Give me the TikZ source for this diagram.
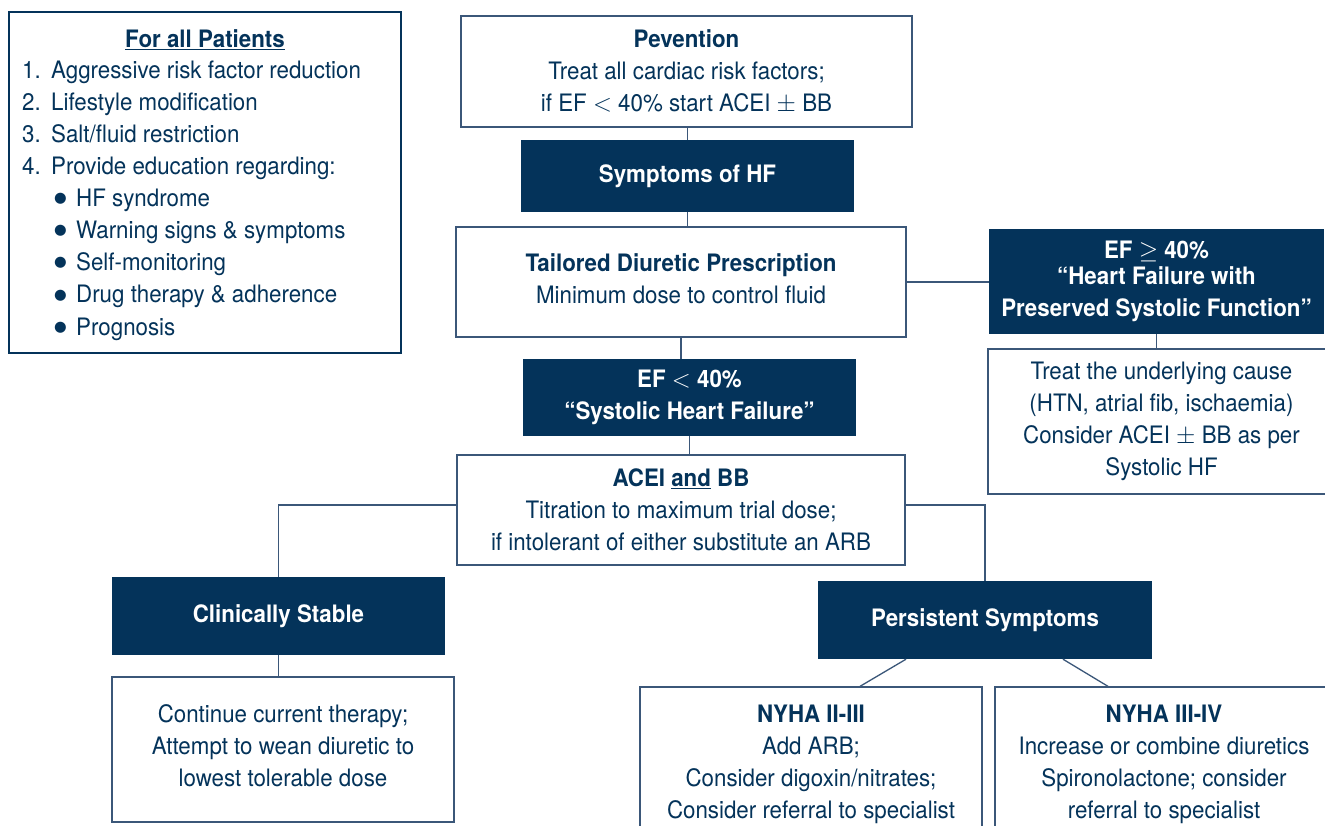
\documentclass[tikz,border=0pt]{standalone}
\usepackage{fontspec}
\setmainfont{TeX Gyre Heros}[FakeStretch=0.93]
\newfontfamily\dejavu{DejaVu Sans}
\definecolor{navy}{HTML}{04335A}
\definecolor{edgec}{HTML}{3B5779}
\newcommand{\bigbul}{\makebox[23pt][l]{\hspace{1pt}\raisebox{4pt}{\dejavu\fontsize{14.5}{14.5}\selectfont ●}}}
\begin{document}
\begin{tikzpicture}[x=1pt,y=-1pt,
  every node/.style={font=\fontsize{24}{32}\selectfont, text=navy},
  wbox/.style={draw=edgec, line width=1.3pt, fill=white, inner sep=0pt, align=center},
  dbox/.style={fill=navy, text=white, inner sep=0pt, align=center, font=\fontsize{24}{32}\selectfont\bfseries},
  pbox/.style={draw=navy, line width=2.6pt, fill=white, inner sep=0pt},
  listitem/.style={anchor=base west, inner sep=0pt},
  conn/.style={draw=edgec, line width=1.3pt}]
\useasboundingbox (0,0) rectangle (1325,826);
\clip (0,0) rectangle (1325,826);
\fill[white] (0,0) rectangle (1325,826);

% For all patients box
\node[pbox, minimum width=392pt, minimum height=341pt] (pat) at (205,182.5) {};
\node[anchor=base, inner sep=0pt, font=\fontsize{24}{32}\selectfont\bfseries] (p0) at (205,47.5) {\underline{For all Patients}};
\node[listitem] (p1) at (22,79) {\makebox[29pt][l]{1.}Aggressive risk factor reduction};
\node[listitem] (p2) at (22,111) {\makebox[29pt][l]{2.}Lifestyle modification};
\node[listitem] (p3) at (22,143) {\makebox[29pt][l]{3.}Salt/fluid restriction};
\node[listitem] (p4) at (22,175) {\makebox[29pt][l]{4.}Provide education regarding:};
\node[listitem] (p5) at (53,207) {\bigbul HF syndrome};
\node[listitem] (p6) at (53,239) {\bigbul Warning signs \& symptoms};
\node[listitem] (p7) at (53,271) {\bigbul Self-monitoring};
\node[listitem] (p8) at (53,303) {\bigbul Drug therapy \& adherence};
\node[listitem] (p9) at (53,335) {\bigbul Prognosis};

% Main flow
\node[wbox, minimum width=451pt, minimum height=111pt] (prev) at (686.5,71.5)
  {\textbf{Pevention}\\Treat all cardiac risk factors;\\if EF $<$ 40\% start ACEI $\pm$ BB};
\node[dbox, minimum width=333pt, minimum height=72pt] (sym) at (687.5,176) {Symptoms of HF};
\node[wbox, minimum width=450pt, minimum height=110pt] (tail) at (681,282)
  {\textbf{Tailored Diuretic Prescription}\\Minimum dose to control fluid\\[-25pt]};
\node[dbox, minimum width=335pt, minimum height=105pt] (efp) at (1156.5,281.5)
  {EF $\geq$ 40\%\\[-6pt]“Heart Failure with\\Preserved Systolic Function”};
\node[wbox, minimum width=347pt, minimum height=145pt] (treat) at (1161.5,421.5)
  {Treat the underlying cause\\(HTN, atrial fib, ischaemia)\\Consider ACEI $\pm$ BB as per\\Systolic HF};
\node[dbox, minimum width=333pt, minimum height=77pt] (efl) at (689.5,397.5)
  {EF $<$ 40\%\\“Systolic Heart Failure”};
\node[wbox, minimum width=448pt, minimum height=110pt] (acei) at (681,510)
  {\textbf{ACEI \underline{and} BB}\\Titration to maximum trial dose;\\if intolerant of either substitute an ARB};
\node[dbox, minimum width=333pt, minimum height=78pt] (stab) at (278.5,616) {Clinically Stable};
\node[wbox, minimum width=342pt, minimum height=145pt] (cont) at (283,749.5)
  {Continue current therapy;\\Attempt to wean diuretic to\\lowest tolerable dose\\[-24pt]};
\node[wbox, minimum width=342pt, minimum height=145pt] (ny2) at (811,759.5)
  {\\[-4pt]\textbf{NYHA II-III}\\Add ARB;\\Consider digoxin/nitrates;\\Consider referral to specialist};
\node[dbox, minimum width=334pt, minimum height=78pt] (pers) at (985,620) {Persistent Symptoms};
\node[wbox, minimum width=338pt, minimum height=145pt] (ny3) at (1164,759.5)
  {\\[-4pt]\textbf{NYHA III-IV}\\Increase or combine diuretics\\Spironolactone; consider\\referral to specialist};

% Connectors
\draw[conn] (sym.north) -- (sym.north |- prev.south);
\draw[conn] (sym.south) -- (sym.south |- tail.north);
\draw[conn] (tail.east) -- (tail.east -| efp.west);
\draw[conn] (efp.south) -- (efp.south |- treat.north);
\draw[conn] (tail.south) -- (tail.south |- efl.north);
\draw[conn] (efl.south) -- (efl.south |- acei.north);
\draw[conn] ([yshift=5pt]acei.west) -| (stab.north);
\draw[conn] ([yshift=5pt]acei.east) -| (pers.north);
\draw[conn] (stab.south) -- (stab.south |- cont.north);
\draw[conn] ([xshift=-79pt]pers.south) -- ([xshift=49pt]ny2.north);
\draw[conn] ([xshift=78pt]pers.south) -- ([xshift=-56pt]ny3.north);
\end{tikzpicture}
\end{document}
